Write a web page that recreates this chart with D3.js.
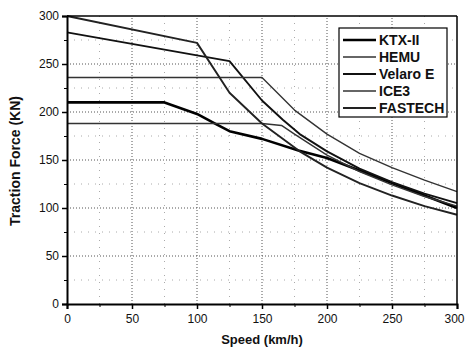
<!DOCTYPE html>
<html><head><meta charset="utf-8">
<script src="https://cdn.jsdelivr.net/npm/d3@7"></script>
<style>body{margin:0;background:#fff}svg{display:block}text{font-family:"Liberation Sans",Arial,sans-serif;fill:#111}</style>
</head><body><svg id="c" width="465" height="349"></svg>
<script>
const seriesNames = ["KTX-II","HEMU","Velaro E","ICE3","FASTECH"];
const ktx2 = [[0,210],[75,210],[100,198],[115,187],[125,180],[150,172],[178,160],[200,152],[225,139],[250,126],[275,113],[300,100]];
const hemu = [[0,188],[150,188],[165,186],[175,177],[200,155],[225,138],[250,124],[275,112],[300,102]];
const velaroE = [[0,283],[125,253],[150,212],[166,192],[179,177],[200,159],[225,141],[250,127],[275,115],[300,105]];
const ice3 = [[0,236],[150,236],[175,202],[200,177],[225,157],[250,142],[275,129],[300,117]];
const fastech = [[0,300],[100,272],[125,220],[150,188],[179,159],[200,142],[225,126],[250,113],[275,102],[300,93]];
const seriesData = [ktx2, hemu, velaroE, ice3, fastech];
const seriesWidth = [2.6,1.4,1.9,1.4,1.9];
const seriesColor = ["#000","#333","#111","#333","#222"];
const xTicks = [0,50,100,150,200,250,300];
const yTicks = [0,50,100,150,200,250,300];
const minor = [25,75,125,175,225,275];

const svg = d3.select("#c");
const x = d3.scaleLinear().domain([0,300]).range([67,457]);
const y = d3.scaleLinear().domain([0,300]).range([304,16]);

// minor grid
svg.append("g").selectAll("line").data(minor).join("line")
  .attr("x1",d=>x(d)).attr("x2",d=>x(d)).attr("y1",y(0)).attr("y2",y(300))
  .attr("stroke","#aaa").attr("stroke-width",1).attr("stroke-dasharray","1,6");
svg.append("g").selectAll("line").data(minor).join("line")
  .attr("y1",d=>y(d)).attr("y2",d=>y(d)).attr("x1",x(0)).attr("x2",x(300))
  .attr("stroke","#aaa").attr("stroke-width",1).attr("stroke-dasharray","1,6");
// major grid
svg.append("g").selectAll("line").data(xTicks.slice(1,-1)).join("line")
  .attr("x1",d=>x(d)).attr("x2",d=>x(d)).attr("y1",y(0)).attr("y2",y(300))
  .attr("stroke","#555").attr("stroke-width",1).attr("stroke-dasharray","1,2");
svg.append("g").selectAll("line").data(yTicks.slice(1,-1)).join("line")
  .attr("y1",d=>y(d)).attr("y2",d=>y(d)).attr("x1",x(0)).attr("x2",x(300))
  .attr("stroke","#555").attr("stroke-width",1).attr("stroke-dasharray","1,2");

// lines
const line = d3.line().x(d=>x(d[0])).y(d=>y(d[1]));
seriesData.forEach((s,i)=>{
  svg.append("path").datum(s).attr("d",line).attr("fill","none")
    .attr("stroke",seriesColor[i]).attr("stroke-width",seriesWidth[i]).attr("stroke-linejoin","round");
});

// frame top/right
svg.append("line").attr("x1",x(0)).attr("x2",x(300)).attr("y1",y(300)).attr("y2",y(300)).attr("stroke","#000").attr("stroke-width",1.5);
svg.append("line").attr("x1",x(300)).attr("x2",x(300)).attr("y1",y(300)).attr("y2",y(0)).attr("stroke","#000").attr("stroke-width",1.5);

// axes
const xAxis = d3.axisBottom(x).tickValues(xTicks).tickSize(5).tickPadding(5);
const gx = svg.append("g").attr("transform",`translate(0,${y(0)})`).call(xAxis);
gx.select(".domain").attr("stroke-width",2);
gx.selectAll(".tick line").attr("stroke-width",1.5);
gx.selectAll("text").attr("font-size",12).attr("font-family","Liberation Sans, Arial").attr("fill","#111");
gx.selectAll(".tick text").filter(d=>d===300).attr("text-anchor","end").attr("dx",7);
const gxm = svg.append("g").attr("transform",`translate(0,${y(0)})`).call(d3.axisBottom(x).tickValues(minor).tickSize(3).tickFormat(""));
gxm.select(".domain").remove();
const yAxis = d3.axisLeft(y).tickValues(yTicks).tickSize(5).tickPadding(3);
const gy = svg.append("g").attr("transform",`translate(${x(0)},0)`).call(yAxis);
gy.select(".domain").attr("stroke-width",2);
gy.selectAll(".tick line").attr("stroke-width",1.5);
gy.selectAll("text").attr("font-size",12).attr("font-family","Liberation Sans, Arial").attr("fill","#111");
const gym = svg.append("g").attr("transform",`translate(${x(0)},0)`).call(d3.axisLeft(y).tickValues(minor).tickSize(3).tickFormat(""));
gym.select(".domain").remove();

// titles
svg.append("text").attr("x",262).attr("y",344).attr("text-anchor","middle").attr("font-size",13).attr("font-weight","bold").text("Speed (km/h)");
svg.append("text").attr("transform","translate(20,161) rotate(-90)").attr("text-anchor","middle").attr("font-size",14).attr("font-weight","bold").text("Traction Force (KN)");

// legend
const lg = svg.append("g");
lg.append("rect").attr("x",339).attr("y",28).attr("width",108).attr("height",89).attr("fill","#fff").attr("stroke","#000").attr("stroke-width",1.2);
seriesNames.forEach((n,i)=>{
  const yy = 40 + i*17;
  lg.append("line").attr("x1",343).attr("x2",376).attr("y1",yy).attr("y2",yy).attr("stroke",seriesColor[i]).attr("stroke-width",seriesWidth[i]);
  lg.append("text").attr("x",379).attr("y",yy+5).attr("font-size",14).attr("font-weight","bold").text(n);
});
</script></body></html>
